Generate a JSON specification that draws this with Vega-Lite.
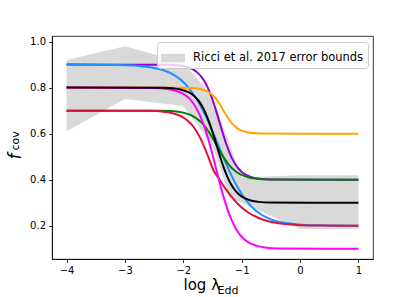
{
  "$schema": "https://vega.github.io/schema/vega-lite/v6.json",
  "width": 321,
  "height": 223,
  "autosize": {"type": "none"},
  "padding": {"left": 52, "top": 36, "right": 42, "bottom": 38},
  "config": {
    "font": "DejaVu Sans",
    "view": {"stroke": "#000000", "strokeWidth": 0.8},
    "axis": {
      "grid": false,
      "domainColor": "#000000",
      "domainWidth": 0.8,
      "tickColor": "#000000",
      "tickWidth": 0.8,
      "tickSize": 3.5,
      "labelFontSize": 10,
      "labelColor": "#000000",
      "labelPadding": 3,
      "titleColor": "#000000",
      "titleFontWeight": "normal"
    },
    "legend": {
      "orient": "top-right",
      "offset": 5.5,
      "fillColor": "rgba(255,255,255,0.8)",
      "strokeColor": "#cccccc",
      "cornerRadius": 3,
      "padding": 4,
      "labelFontSize": 11.5,
      "labelColor": "#000000",
      "labelLimit": 400,
      "labelOffset": 8,
      "symbolType": "M-1,-0.35H1V0.35H-1Z",
      "symbolSize": 576,
      "symbolStrokeWidth": 0
    }
  },
  "datasets": {
    "band": [
      {"x": -4, "lo": 0.61, "hi": 0.92, "label": "Ricci et al. 2017 error bounds"},
      {"x": -3, "lo": 0.75, "hi": 0.98, "label": "Ricci et al. 2017 error bounds"},
      {"x": -2, "lo": 0.72, "hi": 0.91, "label": "Ricci et al. 2017 error bounds"},
      {"x": -1.5, "lo": 0.55, "hi": 0.76, "label": "Ricci et al. 2017 error bounds"},
      {"x": -1.2, "lo": 0.32, "hi": 0.55, "label": "Ricci et al. 2017 error bounds"},
      {"x": -1, "lo": 0.30, "hi": 0.41, "label": "Ricci et al. 2017 error bounds"},
      {"x": 0, "lo": 0.186, "hi": 0.42, "label": "Ricci et al. 2017 error bounds"},
      {"x": 1, "lo": 0.186, "hi": 0.42, "label": "Ricci et al. 2017 error bounds"}
    ],
    "curves": [
      {"s": "s1", "x": -4, "y": 0.9},
      {"s": "s1", "x": -2.25, "y": 0.899},
      {"s": "s1", "x": -2.076, "y": 0.896},
      {"s": "s1", "x": -1.96, "y": 0.891},
      {"s": "s1", "x": -1.844, "y": 0.880},
      {"s": "s1", "x": -1.757, "y": 0.865},
      {"s": "s1", "x": -1.67, "y": 0.840},
      {"s": "s1", "x": -1.612, "y": 0.816},
      {"s": "s1", "x": -1.554, "y": 0.784},
      {"s": "s1", "x": -1.496, "y": 0.745},
      {"s": "s1", "x": -1.438, "y": 0.699},
      {"s": "s1", "x": -1.38, "y": 0.650},
      {"s": "s1", "x": -1.322, "y": 0.601},
      {"s": "s1", "x": -1.264, "y": 0.555},
      {"s": "s1", "x": -1.206, "y": 0.516},
      {"s": "s1", "x": -1.148, "y": 0.484},
      {"s": "s1", "x": -1.09, "y": 0.460},
      {"s": "s1", "x": -1.003, "y": 0.435},
      {"s": "s1", "x": -0.916, "y": 0.420},
      {"s": "s1", "x": -0.80, "y": 0.409},
      {"s": "s1", "x": -0.684, "y": 0.404},
      {"s": "s1", "x": -0.51, "y": 0.401},
      {"s": "s1", "x": 1, "y": 0.4},

      {"s": "s2", "x": -4, "y": 0.9},
      {"s": "s2", "x": -3.11, "y": 0.898},
      {"s": "s2", "x": -2.768, "y": 0.894},
      {"s": "s2", "x": -2.54, "y": 0.887},
      {"s": "s2", "x": -2.312, "y": 0.873},
      {"s": "s2", "x": -2.141, "y": 0.852},
      {"s": "s2", "x": -1.97, "y": 0.817},
      {"s": "s2", "x": -1.856, "y": 0.782},
      {"s": "s2", "x": -1.742, "y": 0.738},
      {"s": "s2", "x": -1.628, "y": 0.683},
      {"s": "s2", "x": -1.514, "y": 0.619},
      {"s": "s2", "x": -1.40, "y": 0.550},
      {"s": "s2", "x": -1.286, "y": 0.481},
      {"s": "s2", "x": -1.172, "y": 0.417},
      {"s": "s2", "x": -1.058, "y": 0.362},
      {"s": "s2", "x": -0.944, "y": 0.318},
      {"s": "s2", "x": -0.83, "y": 0.283},
      {"s": "s2", "x": -0.659, "y": 0.248},
      {"s": "s2", "x": -0.488, "y": 0.227},
      {"s": "s2", "x": -0.26, "y": 0.213},
      {"s": "s2", "x": -0.032, "y": 0.206},
      {"s": "s2", "x": 0.31, "y": 0.202},
      {"s": "s2", "x": 1, "y": 0.2},

      {"s": "s3", "x": -4, "y": 0.7},
      {"s": "s3", "x": -2.42, "y": 0.699},
      {"s": "s3", "x": -2.222, "y": 0.698},
      {"s": "s3", "x": -2.09, "y": 0.695},
      {"s": "s3", "x": -1.958, "y": 0.688},
      {"s": "s3", "x": -1.859, "y": 0.679},
      {"s": "s3", "x": -1.76, "y": 0.664},
      {"s": "s3", "x": -1.694, "y": 0.650},
      {"s": "s3", "x": -1.628, "y": 0.631},
      {"s": "s3", "x": -1.562, "y": 0.607},
      {"s": "s3", "x": -1.496, "y": 0.580},
      {"s": "s3", "x": -1.43, "y": 0.550},
      {"s": "s3", "x": -1.364, "y": 0.520},
      {"s": "s3", "x": -1.298, "y": 0.493},
      {"s": "s3", "x": -1.232, "y": 0.469},
      {"s": "s3", "x": -1.166, "y": 0.450},
      {"s": "s3", "x": -1.10, "y": 0.436},
      {"s": "s3", "x": -1.001, "y": 0.421},
      {"s": "s3", "x": -0.902, "y": 0.412},
      {"s": "s3", "x": -0.77, "y": 0.405},
      {"s": "s3", "x": -0.638, "y": 0.402},
      {"s": "s3", "x": -0.44, "y": 0.401},
      {"s": "s3", "x": 1, "y": 0.4},

      {"s": "s4", "x": -4, "y": 0.7},
      {"s": "s4", "x": -2.58, "y": 0.699},
      {"s": "s4", "x": -2.364, "y": 0.696},
      {"s": "s4", "x": -2.22, "y": 0.691},
      {"s": "s4", "x": -2.076, "y": 0.680},
      {"s": "s4", "x": -1.968, "y": 0.665},
      {"s": "s4", "x": -1.86, "y": 0.640},
      {"s": "s4", "x": -1.788, "y": 0.616},
      {"s": "s4", "x": -1.716, "y": 0.584},
      {"s": "s4", "x": -1.644, "y": 0.545},
      {"s": "s4", "x": -1.572, "y": 0.499},
      {"s": "s4", "x": -1.5, "y": 0.450},
      {"s": "s4", "x": -1.38, "y": 0.401},
      {"s": "s4", "x": -1.26, "y": 0.355},
      {"s": "s4", "x": -1.14, "y": 0.316},
      {"s": "s4", "x": -1.02, "y": 0.284},
      {"s": "s4", "x": -0.90, "y": 0.260},
      {"s": "s4", "x": -0.72, "y": 0.235},
      {"s": "s4", "x": -0.54, "y": 0.220},
      {"s": "s4", "x": -0.30, "y": 0.209},
      {"s": "s4", "x": -0.06, "y": 0.204},
      {"s": "s4", "x": 0.30, "y": 0.201},
      {"s": "s4", "x": 1, "y": 0.2},

      {"s": "s5", "x": -4, "y": 0.8},
      {"s": "s5", "x": -2.0, "y": 0.7995},
      {"s": "s5", "x": -1.862, "y": 0.798},
      {"s": "s5", "x": -1.77, "y": 0.796},
      {"s": "s5", "x": -1.678, "y": 0.792},
      {"s": "s5", "x": -1.609, "y": 0.786},
      {"s": "s5", "x": -1.54, "y": 0.776},
      {"s": "s5", "x": -1.494, "y": 0.766},
      {"s": "s5", "x": -1.448, "y": 0.754},
      {"s": "s5", "x": -1.402, "y": 0.738},
      {"s": "s5", "x": -1.356, "y": 0.720},
      {"s": "s5", "x": -1.31, "y": 0.700},
      {"s": "s5", "x": -1.264, "y": 0.680},
      {"s": "s5", "x": -1.218, "y": 0.662},
      {"s": "s5", "x": -1.172, "y": 0.646},
      {"s": "s5", "x": -1.126, "y": 0.634},
      {"s": "s5", "x": -1.08, "y": 0.624},
      {"s": "s5", "x": -1.011, "y": 0.614},
      {"s": "s5", "x": -0.942, "y": 0.608},
      {"s": "s5", "x": -0.85, "y": 0.604},
      {"s": "s5", "x": -0.758, "y": 0.602},
      {"s": "s5", "x": -0.62, "y": 0.6005},
      {"s": "s5", "x": 1, "y": 0.6},

      {"s": "s6", "x": -4, "y": 0.8},
      {"s": "s6", "x": -2.49, "y": 0.798},
      {"s": "s6", "x": -2.28, "y": 0.794},
      {"s": "s6", "x": -2.14, "y": 0.787},
      {"s": "s6", "x": -2.0, "y": 0.773},
      {"s": "s6", "x": -1.895, "y": 0.752},
      {"s": "s6", "x": -1.79, "y": 0.717},
      {"s": "s6", "x": -1.72, "y": 0.682},
      {"s": "s6", "x": -1.65, "y": 0.638},
      {"s": "s6", "x": -1.58, "y": 0.583},
      {"s": "s6", "x": -1.51, "y": 0.519},
      {"s": "s6", "x": -1.44, "y": 0.450},
      {"s": "s6", "x": -1.37, "y": 0.381},
      {"s": "s6", "x": -1.30, "y": 0.317},
      {"s": "s6", "x": -1.23, "y": 0.262},
      {"s": "s6", "x": -1.16, "y": 0.218},
      {"s": "s6", "x": -1.09, "y": 0.183},
      {"s": "s6", "x": -0.985, "y": 0.148},
      {"s": "s6", "x": -0.88, "y": 0.127},
      {"s": "s6", "x": -0.74, "y": 0.113},
      {"s": "s6", "x": -0.60, "y": 0.106},
      {"s": "s6", "x": -0.39, "y": 0.102},
      {"s": "s6", "x": 1, "y": 0.1},

      {"s": "s7", "x": -4, "y": 0.8},
      {"s": "s7", "x": -2.33, "y": 0.799},
      {"s": "s7", "x": -2.15, "y": 0.796},
      {"s": "s7", "x": -2.03, "y": 0.791},
      {"s": "s7", "x": -1.91, "y": 0.780},
      {"s": "s7", "x": -1.82, "y": 0.765},
      {"s": "s7", "x": -1.73, "y": 0.740},
      {"s": "s7", "x": -1.67, "y": 0.716},
      {"s": "s7", "x": -1.61, "y": 0.684},
      {"s": "s7", "x": -1.55, "y": 0.645},
      {"s": "s7", "x": -1.49, "y": 0.599},
      {"s": "s7", "x": -1.43, "y": 0.550},
      {"s": "s7", "x": -1.37, "y": 0.501},
      {"s": "s7", "x": -1.31, "y": 0.455},
      {"s": "s7", "x": -1.25, "y": 0.416},
      {"s": "s7", "x": -1.19, "y": 0.384},
      {"s": "s7", "x": -1.13, "y": 0.360},
      {"s": "s7", "x": -1.04, "y": 0.335},
      {"s": "s7", "x": -0.95, "y": 0.320},
      {"s": "s7", "x": -0.83, "y": 0.309},
      {"s": "s7", "x": -0.71, "y": 0.304},
      {"s": "s7", "x": -0.53, "y": 0.301},
      {"s": "s7", "x": 1, "y": 0.3}
    ]
  },
  "layer": [
    {
      "data": {"name": "band"},
      "mark": {"type": "area", "interpolate": "linear"},
      "encoding": {
        "x": {
          "field": "x", "type": "quantitative",
          "scale": {"domain": [-4.25, 1.25], "nice": false, "zero": false},
          "axis": {
            "orient": "bottom",
            "values": [-4, -3, -2, -1, 0, 1],
            "format": "d",
            "title": "log λ",
            "titleFontSize": 15,
            "titleX": 131,
            "titleY": 30,
            "titleAlign": "left",
            "titleBaseline": "alphabetic"
          }
        },
        "y": {
          "field": "hi", "type": "quantitative",
          "scale": {"domain": [0.056, 1.024], "nice": false, "zero": false},
          "axis": {
            "orient": "left",
            "values": [0.2, 0.4, 0.6, 0.8, 1.0],
            "format": ".1f",
            "title": "f",
            "titleFontSize": 17,
            "titleFontStyle": "italic",
            "titleAngle": 270,
            "titleX": -32,
            "titleY": 123,
            "titleAlign": "left",
            "titleBaseline": "alphabetic"
          }
        },
        "y2": {"field": "lo"},
        "fill": {
          "field": "label", "type": "nominal",
          "scale": {"range": ["#d9d9d9"]},
          "legend": {"title": null}
        }
      }
    },
    {
      "data": {"name": "curves"},
      "mark": {"type": "line", "interpolate": "monotone", "strokeWidth": 2},
      "encoding": {
        "x": {
          "field": "x", "type": "quantitative",
          "scale": {"domain": [-4.25, 1.25], "nice": false, "zero": false},
          "axis": {
            "orient": "bottom",
            "labels": false, "ticks": false, "domain": false, "grid": false,
            "title": "Edd",
            "titleFontSize": 11,
            "titleX": 165,
            "titleY": 34,
            "titleAlign": "left",
            "titleBaseline": "alphabetic"
          }
        },
        "y": {
          "field": "y", "type": "quantitative",
          "scale": {"domain": [0.056, 1.024], "nice": false, "zero": false},
          "axis": {
            "orient": "left",
            "labels": false, "ticks": false, "domain": false, "grid": false,
            "title": "cov",
            "titleFontSize": 11,
            "titleAngle": 270,
            "titleX": -33.5,
            "titleY": 114,
            "titleAlign": "left",
            "titleBaseline": "alphabetic"
          }
        },
        "color": {
          "field": "s", "type": "nominal",
          "scale": {
            "domain": ["s1", "s2", "s3", "s4", "s5", "s6", "s7"],
            "range": ["#9400d3", "#1e90ff", "#008000", "#dc143c", "#ffa500", "#ff00ff", "#000000"]
          },
          "legend": null
        }
      }
    }
  ],
  "resolve": {"axis": {"x": "independent", "y": "independent"}}
}
